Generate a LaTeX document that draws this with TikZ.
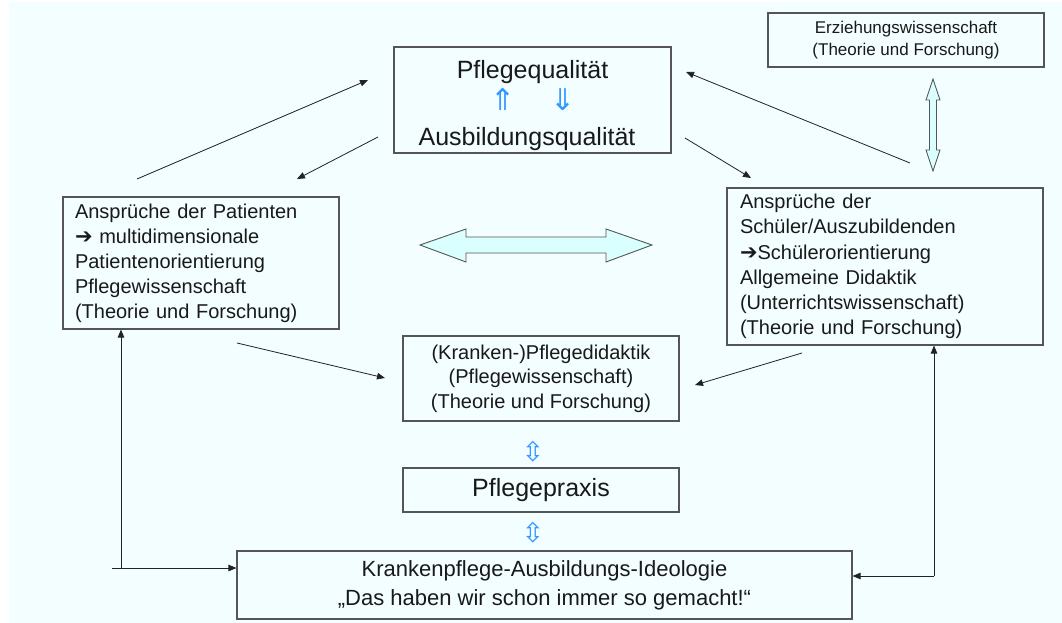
\documentclass[tikz,border=0pt]{standalone}
\usepackage{fontspec}
\setmainfont{Liberation Sans}
\newfontfamily\symfont{DejaVu Sans}
\usetikzlibrary{arrows.meta}
\definecolor{bgc}{RGB}{242,254,255}
\definecolor{fillc}{RGB}{217,255,255}
\definecolor{bluec}{RGB}{51,153,255}
\definecolor{boxc}{RGB}{85,85,85}
\definecolor{linec}{RGB}{34,34,34}
\definecolor{txtc}{RGB}{25,25,25}
\newcommand{\harr}{{\symfont\bfseries\fontsize{21}{21}\selectfont ➔}}
\begin{document}
\begin{tikzpicture}[x=1pt,y=-1pt,
  box/.style={draw=boxc,line width=1.1pt,inner sep=0pt,text=txtc},
  conn/.style={draw=linec,line width=0.8pt,-{Triangle[length=8pt,width=6.5pt]}},
  blockarrow/.style={draw=boxc,line width=0.9pt,fill=fillc,line join=miter},
  bluearr/.style={text=bluec,font=\symfont\fontsize{30}{30}\selectfont,inner sep=0pt},
  smallarr/.style={text=bluec,font=\symfont\fontsize{27}{27}\selectfont,inner sep=0pt},
  lbl/.style={text=txtc,inner sep=0pt,anchor=base}]
\useasboundingbox (0,0) rectangle (1062,623);
\fill[white] (0,0) rectangle (1062,623);
\fill[bgc] (9,2) rectangle (1062,623);

% top box
\node[box,minimum width=277pt,minimum height=106pt] (top) at (532.5,100) {};
\node[lbl,font=\fontsize{25}{25}\selectfont] (pq) at (532.5,79) {Pflegequalität};
\node[lbl,font=\fontsize{25}{25}\selectfont] (aq) at (527,146) {Ausbildungsqualität};
\node[bluearr] (up) at (503,100) {⇑};
\node[bluearr] (down) at (563,100) {⇓};

% Erziehungswissenschaft
\node[box,minimum width=276pt,minimum height=54pt,align=center,
  font=\fontsize{17}{22}\selectfont] (erz) at (906,40)
  {Erziehungswissenschaft\\(Theorie und Forschung)};

% left box
\node[box,text width=252pt,inner xsep=12pt,minimum height=132pt,align=left,
  font=\fontsize{20}{25}\selectfont] (pat) at (201,263)
  {Ansprüche der Patienten\\\harr{} multidimensionale\\Patientenorientierung\\Pflegewissenschaft\\(Theorie und Forschung)};

% right box
\node[box,text width=290pt,inner xsep=13pt,minimum height=157pt,align=left,
  font=\fontsize{20}{25.3}\selectfont] (sch) at (885,266.5)
  {Ansprüche der\\Schüler/Auszubildenden\\\harr{}Schülerorientierung\\Allgemeine Didaktik\\(Unterrichtswissenschaft)\\(Theorie und Forschung)};

% Pflegedidaktik
\node[box,minimum width=276pt,minimum height=85pt,align=center,
  font=\fontsize{20}{24.5}\selectfont] (did) at (541,378.5)
  {(Kranken-)Pflegedidaktik\\(Pflegewissenschaft)\\(Theorie und Forschung)};

% Pflegepraxis
\node[box,minimum width=276pt,minimum height=44pt,
  font=\fontsize{25}{25}\selectfont] (prax) at (541,490) {Pflegepraxis};

% bottom box
\node[box,minimum width=615pt,minimum height=68pt,align=center,
  font=\fontsize{22}{29}\selectfont] (bot) at (544.5,585)
  {Krankenpflege-Ausbildungs-Ideologie\\„Das haben wir schon immer so gemacht!“};

% blue small arrows
\node[smallarr] (ud1) at (533,452) {⇳};
\node[smallarr] (ud2) at (533,533) {⇳};

% horizontal block double arrow
\draw[blockarrow] (420,245) -- (466,229) -- (466,237) -- (606,237) -- (606,229)
  -- (652,245) -- (606,262) -- (606,253) -- (466,253) -- (466,262) -- cycle;
% vertical block double arrow
\draw[blockarrow] (933,79) -- (940,100) -- (936.5,100) -- (936.5,150) -- (940,150)
  -- (933,171) -- (926,150) -- (929.5,150) -- (929.5,100) -- (926,100) -- cycle;

% connectors
\coordinate (c1s) at (137,179); \coordinate (c1e) at (368,80);
\coordinate (c2s) at (378,137); \coordinate (c2e) at (297,179);
\coordinate (c3s) at (910,163); \coordinate (c3e) at (686,72);
\coordinate (c4s) at (685,138); \coordinate (c4e) at (751,178);
\coordinate (c5s) at (237,343); \coordinate (c5e) at (385,378);
\coordinate (c6s) at (802,353); \coordinate (c6e) at (695,385);
\draw[conn] (c1s) -- (c1e);
\draw[conn] (c2s) -- (c2e);
\draw[conn] (c3s) -- (c3e);
\draw[conn] (c4s) -- (c4e);
\draw[conn] (c5s) -- (c5e);
\draw[conn] (c6s) -- (c6e);

\coordinate (ls) at (112,568);
\coordinate (lc) at (121,568);
\coordinate (rc) at (934,576);
\draw[conn] (ls) -- (bot.west |- ls);
\draw[conn] (lc) -- (pat.south -| lc);
\draw[conn] (rc) -- (sch.south -| rc);
\draw[conn] (rc) -- (bot.east |- rc);
\end{tikzpicture}
\end{document}
